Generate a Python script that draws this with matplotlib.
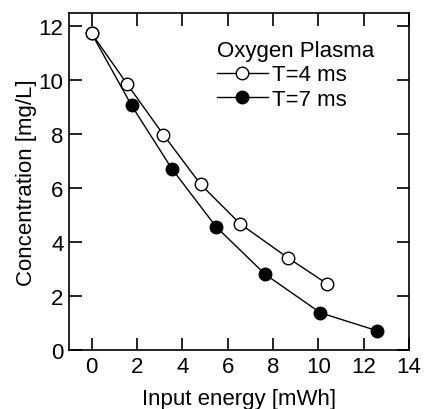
import matplotlib
matplotlib.use("Agg")
import matplotlib.pyplot as plt

plt.rcParams['font.family'] = ['Liberation Sans', 'DejaVu Sans']

# data
energy_4ms = [0, 1.56, 3.16, 4.81, 6.55, 8.64, 10.38]
conc_4ms = [11.74, 9.87, 7.99, 6.14, 4.68, 3.43, 2.46]
energy_7ms = [0, 1.76, 3.54, 5.49, 7.65, 10.09, 12.57]
conc_7ms = [11.74, 9.07, 6.72, 4.57, 2.81, 1.38, 0.72]

fig = plt.figure(figsize=(4.24, 4.10), dpi=100)
ax = fig.add_axes([69 / 424, 1 - 351 / 410, 340 / 424, 337 / 410])

ax.plot(energy_7ms, conc_7ms, '-o', color='black', lw=1.0, ms=9,
        mfc='black', mec='black', label='T=7 ms', zorder=3)
ax.plot(energy_4ms, conc_4ms, '-o', color='black', lw=1.0, ms=9,
        mfc='white', mec='black', mew=1.0, label='T=4 ms', zorder=4)

ax.set_xlim(-1, 14)
ax.set_ylim(0, 12.5)
ax.set_xticks(range(0, 15, 2))
ax.set_yticks(range(0, 13, 2))
ax.tick_params(direction='in', length=9, width=1.2, labelsize=16,
               top=True, right=True, pad=4)
for s in ax.spines.values():
    s.set_linewidth(1.2)

ax.set_xlabel('Input energy [mWh]', fontsize=16, labelpad=8)
ax.set_ylabel('Concentration [mg/L]', fontsize=16, labelpad=1)

h, l = ax.get_legend_handles_labels()
leg = ax.legend(h[::-1], l[::-1], title='Oxygen Plasma', loc='upper left',
                frameon=False, fontsize=16, title_fontsize=16,
                handlelength=2.3, handletextpad=0.2, labelspacing=0.15,
                borderaxespad=0, borderpad=0, bbox_to_anchor=(0.435, 0.92))
leg._legend_box.align = 'left'

fig.savefig('out.png', dpi=100)
